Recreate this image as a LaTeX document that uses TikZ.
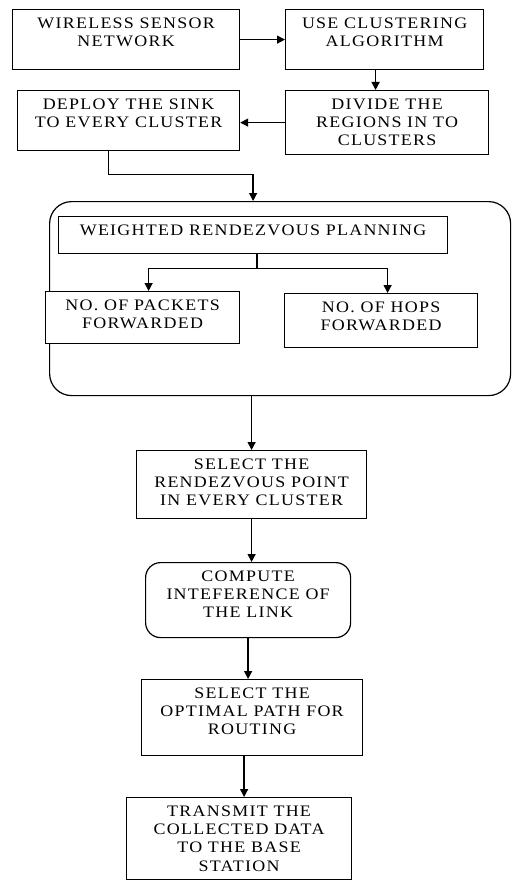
\documentclass[tikz,border=0pt]{standalone}
\usepackage{fontspec}
\setmainfont{Liberation Serif}[LetterSpace=8, FakeStretch=1.12]
\usepackage{tikz}
\usetikzlibrary{arrows.meta}
\newcommand{\blktxt}[3]{\parbox[t][#2][t]{#1}{\vspace*{8pt}\centering #3}}
\tikzset{
  blk/.style={draw, line width=1.2pt, fill=white, inner sep=0pt, anchor=north west},
  arr/.style={line width=1.3pt, -{Triangle[length=8pt,width=8pt]}},
  lin/.style={line width=1.3pt}
}

\begin{document}
\begin{tikzpicture}[x=1pt, y=-1pt, font=\fontsize{16}{18.3}\selectfont]
        \useasboundingbox (0,0) rectangle (511,880);
        % Riga superiore
        \node[blk] (wsn) at (12,9) {\blktxt{227pt}{60pt}{WIRELESS SENSOR\\NETWORK}};
        \node[blk] (clu) at (285,9) {\blktxt{198pt}{60pt}{USE CLUSTERING\\ALGORITHM}};
        \node[blk] (div) at (285,90) {\blktxt{203pt}{64pt}{DIVIDE THE\\REGIONS IN TO\\CLUSTERS}};
        \node[blk] (dep) at (17,90) {\blktxt{222pt}{60pt}{DEPLOY THE SINK\\TO EVERY CLUSTER}};
        % Gruppo pianificazione
        \node[draw, line width=1.2pt, rounded corners=22pt, anchor=north west,
              minimum width=461pt, minimum height=194pt] (grp) at (49,201) {};
        \node[blk] (wrp) at (58,216) {\blktxt{389pt}{37pt}{WEIGHTED RENDEZVOUS PLANNING}};
        \node[blk] (pkt) at (45,291) {\blktxt{194pt}{52pt}{NO. OF PACKETS\\FORWARDED}};
        \node[blk] (hop) at (284,293) {\blktxt{193pt}{54pt}{NO. OF HOPS\\FORWARDED}};
        % Colonna inferiore
        \node[blk] (sel) at (136,450) {\blktxt{230pt}{68pt}{SELECT THE\\RENDEZVOUS POINT\\IN EVERY CLUSTER}};
        \node[blk, rounded corners=15pt] (cmp) at (145,562) {\blktxt{205pt}{75pt}{COMPUTE\\INTEFERENCE OF\\THE LINK}};
        \node[blk] (opt) at (141,679) {\blktxt{221pt}{76pt}{SELECT THE\\OPTIMAL PATH FOR\\ROUTING}};
        \node[blk] (trn) at (126,797) {\blktxt{225pt}{82pt}{TRANSMIT THE\\COLLECTED DATA\\TO THE BASE\\STATION}};
        % Frecce
        \draw[arr] (wsn.east) -- (wsn.east -| clu.west);
        \draw[arr] ([xshift=-9pt]clu.south) -- ([xshift=-9pt]clu.south |- div.north);
        \draw[arr] (div.west) -- (div.west -| dep.east);
        \draw[arr] ([xshift=-20pt]dep.south) -- ++(0,23) -| (wrp.north |- grp.north);
        \draw[lin] ([xshift=4pt]wrp.south) -- ++(0,14) coordinate (fork);
        \draw[arr] (fork) -| ([xshift=6pt]pkt.north);
        \draw[arr] (fork) -| ([xshift=6.5pt]hop.north);
        \draw[arr] (sel.north |- grp.south) -- (sel.north);
        \draw[arr] (sel.south) -- (sel.south |- cmp.north);
        \draw[arr] (cmp.south) -- (cmp.south |- opt.north);
        \draw[arr] ([xshift=-8pt]opt.south) -- ([xshift=-8pt]opt.south |- trn.north);
\end{tikzpicture}
\end{document}
